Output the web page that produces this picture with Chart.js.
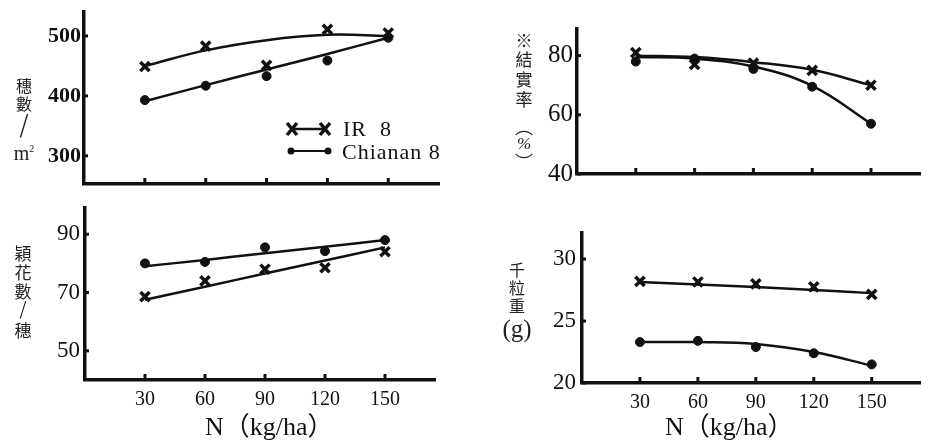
<!DOCTYPE html>
<html>
<head>
<meta charset="utf-8">
<script src="https://cdn.jsdelivr.net/npm/chart.js@4/dist/chart.umd.min.js"></script>
<style>
  body { margin: 0; background: #fff; width: 930px; height: 443px; position: relative; overflow: hidden; }
  canvas { position: absolute; }
  .lab { position: absolute; font-family: "Noto Sans CJK TC", "Noto Sans CJK JP", serif; color: #222; text-align: center; line-height: 1; }
  .lab span { display: block; }
  .xt { position: absolute; font-family: "Liberation Serif", "Noto Sans CJK TC", serif; font-size: 26px; line-height: 28px; color: #111; white-space: pre; }
</style>
</head>
<body>
<canvas id="p1" width="460" height="194" style="left:0;top:0"></canvas>
<canvas id="p2" width="470" height="190" style="left:460px;top:0"></canvas>
<canvas id="p3" width="460" height="253" style="left:0;top:190px"></canvas>
<canvas id="p4" width="470" height="253" style="left:460px;top:190px"></canvas>

<div class="lab" style="left:12px;top:77px;width:24px;font-size:16px">
  <span style="margin-bottom:2px">穗</span><span>數</span><span style="font-size:28px;font-family:'DejaVu Sans';font-weight:200;margin:1px 0 3px">/</span><span style="font-family:'Liberation Serif';font-size:20px">m<sup style="font-size:10px">2</sup></span>
</div>
<div class="lab" style="left:514px;top:31px;width:20px;font-size:17px">
  <span style="margin-bottom:2px">※</span><span style="margin-bottom:3px">結</span><span style="margin-bottom:3px">實</span><span>率</span><span style="margin-top:10px;font-size:18px">︵</span><span style="font-family:'Liberation Serif';font-style:italic;font-size:17px">%</span><span style="font-size:18px">︶</span>
</div>
<div class="lab" style="left:13px;top:244px;width:20px;font-size:17px">
  <span style="margin-bottom:2px">穎</span><span style="margin-bottom:2px">花</span><span>數</span><span style="font-size:22px;font-family:'DejaVu Sans';font-weight:200">/</span><span>穗</span>
</div>
<div class="lab" style="left:494px;top:261px;width:46px;font-size:16px">
  <span style="margin-bottom:2px">千</span><span style="margin-bottom:2px">粒</span><span>重</span><span style="font-family:'Liberation Serif';font-size:25px;margin-top:3px">(g)</span>
</div>

<div class="xt" style="left:205px;top:413px">N（kg/ha）</div>
<div class="xt" style="left:665px;top:413px">N（kg/ha）</div>

<script>
// nitrogen levels (kg/ha)
const nLevels = [30, 60, 90, 120, 150];
const xTicks = [30, 60, 90, 120, 150];

// panicles per m2
const panicleIR8 = [449, 483, 451, 511, 505];
const panicleChianan = [393, 417, 433, 459, 497];
const panicleIR8Fit = [450, 476, 493, 502, 500];
const panicleChiananFit = [391, 418, 444, 470, 497];
const panicleTicks = [300, 400, 500];

// ripening rate (%)
const ripenIR8 = [81, 77, 77.5, 75, 70];
const ripenChianan = [78, 79, 75.5, 69.5, 57];
const ripenIR8Fit = [80, 79.5, 77.8, 75.2, 70];
const ripenChiananFit = [79.5, 79, 76.3, 69.8, 57];
const ripenTicks = [40, 60, 80];

// spikelets per panicle
const spikeIR8 = [68.6, 74, 78, 78.5, 84];
const spikeChianan = [80, 80.5, 85.5, 84.2, 88];
const spikeIR8Fit = [67.5, 72, 76.5, 81, 85.5];
const spikeChiananFit = [79, 81.2, 83.5, 85.7, 88];
const spikeTicks = [50, 70, 90];

// 1000-grain weight (g)
const grainIR8 = [28.2, 28.15, 28.0, 27.75, 27.15];
const grainChianan = [23.3, 23.4, 22.9, 22.4, 21.5];
const grainIR8Fit = [28.15, 27.95, 27.75, 27.5, 27.25];
const grainChiananFit = [23.3, 23.3, 23.15, 22.5, 21.4];
const grainTicks = [20, 25, 30];

const ink = '#111';
const pts = arr => nLevels.map((n, i) => ({ x: n, y: arr[i] }));

// little tick stubs drawn inside the axes
const stubs = {
    id: 'stubs',
    afterDraw(chart) {
        const ctx = chart.ctx;
        const a = chart.chartArea;
        ctx.save();
        ctx.strokeStyle = ink;
        ctx.lineWidth = 3;
        chart.scales.x.ticks.forEach(t => {
            const px = chart.scales.x.getPixelForValue(t.value);
            ctx.beginPath();
            ctx.moveTo(px, a.bottom);
            ctx.lineTo(px, a.bottom - 6);
            ctx.stroke();
        });
        chart.scales.y.ticks.forEach(t => {
            const py = chart.scales.y.getPixelForValue(t.value);
            ctx.beginPath();
            ctx.moveTo(a.left, py);
            ctx.lineTo(a.left + 4, py);
            ctx.stroke();
        });
        ctx.restore();
    }
};

const legendMarks = {
    id: 'legendMarks',
    afterDraw(chart) {
        const ctx = chart.ctx;
        ctx.save();
        ctx.strokeStyle = ink;
        ctx.fillStyle = ink;
        // IR 8
        ctx.lineWidth = 2.5;
        ctx.beginPath(); ctx.moveTo(292, 129); ctx.lineTo(325, 129); ctx.stroke();
        ctx.lineWidth = 3.5;
        [292, 325].forEach(cx => {
            ctx.beginPath();
            ctx.moveTo(cx - 5, 123); ctx.lineTo(cx + 5, 135);
            ctx.moveTo(cx + 5, 123); ctx.lineTo(cx - 5, 135);
            ctx.stroke();
        });
        // Chianan 8
        ctx.lineWidth = 2;
        ctx.beginPath(); ctx.moveTo(291, 151); ctx.lineTo(328, 151); ctx.stroke();
        [291, 328].forEach(cx => {
            ctx.beginPath(); ctx.arc(cx, 151, 3.5, 0, Math.PI * 2); ctx.fill();
        });
        ctx.font = '22px "Liberation Serif", serif';
        ctx.letterSpacing = '1px';
        ctx.textBaseline = 'middle';
        ctx.fillText('IR  8', 343, 130);
        ctx.fillText('Chianan 8', 342, 153);
        ctx.restore();
    }
};

function makePanel(id, o) {
    const tickFont = { family: '"Liberation Serif", serif', size: o.fontSize, weight: o.weight || 'normal' };
    new Chart(document.getElementById(id), {
        type: 'scatter',
        data: {
            datasets: [
                { data: pts(o.ir8Fit), showLine: true, tension: 0.4, borderColor: ink, borderWidth: 2.5, pointRadius: 0 },
                { data: pts(o.chiFit), showLine: true, tension: 0.4, borderColor: ink, borderWidth: 2.5, pointRadius: 0 },
                { label: 'IR 8', data: pts(o.ir8), pointStyle: 'crossRot', pointRadius: 6.5, borderWidth: 3.5, borderColor: ink, backgroundColor: ink },
                { label: 'Chianan 8', data: pts(o.chi), pointStyle: 'circle', pointRadius: 4.5, borderWidth: 1, borderColor: ink, backgroundColor: ink }
            ]
        },
        options: {
            responsive: false,
            animation: false,
            devicePixelRatio: 1,
            clip: false,
            layout: { padding: { top: o.top, right: o.right, left: 0, bottom: 0 } },
            plugins: { legend: { display: false }, tooltip: { enabled: false } },
            scales: {
                x: {
                    type: 'linear', min: 0, max: 175,
                    grid: { display: false, drawTicks: false },
                    border: { display: true, width: 3.5, color: ink },
                    ticks: { display: o.showX, font: { family: '"Liberation Serif", serif', size: 20 }, color: ink, padding: 8 },
                    afterBuildTicks: s => { s.ticks = xTicks.map(v => ({ value: v })); },
                    afterFit: s => { s.height = o.bottom; s.paddingLeft = 0; s.paddingRight = 0; }
                },
                y: {
                    min: o.min, max: o.max,
                    grid: { display: false, drawTicks: false },
                    border: { display: true, width: 3.5, color: ink },
                    ticks: { font: tickFont, color: ink, padding: o.pad },
                    afterBuildTicks: s => { s.ticks = o.ticks.map(v => ({ value: v })); },
                    afterFit: s => { s.width = o.left; s.paddingTop = 0; s.paddingBottom = 0; }
                }
            }
        },
        plugins: o.legend ? [stubs, legendMarks] : [stubs]
    });
}

makePanel('p1', {
    ir8: panicleIR8, chi: panicleChianan, ir8Fit: panicleIR8Fit, chiFit: panicleChiananFit,
    ticks: panicleTicks, min: 253, max: 540, left: 84, top: 12, right: 21, bottom: 3,
    fontSize: 22, weight: 'bold', pad: 3, showX: false, legend: true
});
makePanel('p2', {
    ir8: ripenIR8, chi: ripenChianan, ir8Fit: ripenIR8Fit, chiFit: ripenChiananFit,
    ticks: ripenTicks, min: 40, max: 89, left: 117, top: 29, right: 0, bottom: 16,
    fontSize: 25, pad: 4, showX: false
});
makePanel('p3', {
    ir8: spikeIR8, chi: spikeChianan, ir8Fit: spikeIR8Fit, chiFit: spikeChiananFit,
    ticks: spikeTicks, min: 40, max: 99, left: 85, top: 18, right: 25, bottom: 63,
    fontSize: 23, pad: 5, showX: true
});
makePanel('p4', {
    ir8: grainIR8, chi: grainChianan, ir8Fit: grainIR8Fit, chiFit: grainChiananFit,
    ticks: grainTicks, min: 20, max: 32.1, left: 122, top: 43, right: 0, bottom: 60,
    fontSize: 23, pad: 6, showX: true
});
</script>
</body>
</html>
